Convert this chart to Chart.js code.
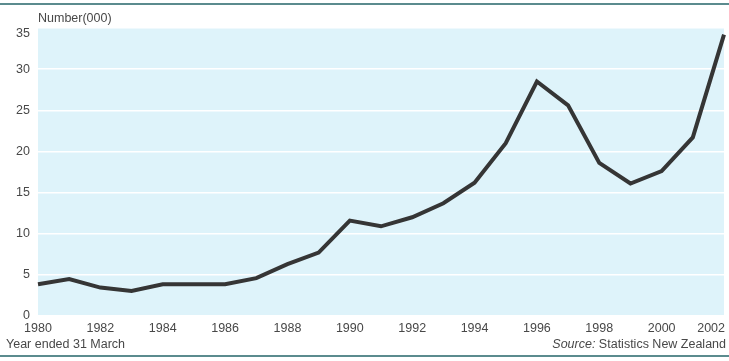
<!DOCTYPE html>
<html>
<head>
<meta charset="utf-8">
<script src="https://cdn.jsdelivr.net/npm/chart.js@4/dist/chart.umd.min.js"></script>
<style>
  html, body { margin: 0; padding: 0; background: #ffffff; }
  #wrap { position: relative; width: 729px; height: 361px; overflow: hidden; font-family: "Liberation Sans", Arial, sans-serif; }
  canvas { position: absolute; left: 0; top: 0; }
  .rule { position: absolute; left: 0; width: 729px; height: 2px; background: #5b8b8e; }
  .txt { position: absolute; font-size: 12.5px; color: #484848; line-height: 14px; white-space: nowrap; }
</style>
</head>
<body>
<div id="wrap">
  <canvas id="c" width="729" height="361"></canvas>
  <div class="rule" style="top:3px"></div>
  <div class="rule" style="top:355px"></div>
  <div class="txt" style="left:38px; top:11px;">Number(000)</div>
  <div class="txt" style="left:6px; top:337px;">Year ended 31 March</div>
  <div class="txt" style="right:3px; top:337px;"><i>Source:</i> Statistics New Zealand</div>
</div>
<script>
const years = ["1980","1981","1982","1983","1984","1985","1986","1987","1988","1989","1990","1991","1992","1993","1994","1995","1996","1997","1998","1999","2000","2001","2002"];
const numbers = [3.85, 4.5, 3.45, 3.05, 3.85, 3.85, 3.85, 4.6, 6.3, 7.7, 11.6, 10.9, 12.0, 13.7, 16.2, 21.0, 28.5, 25.6, 18.6, 16.1, 17.6, 21.7, 34.2];
const yTicks = [0, 5, 10, 15, 20, 25, 30, 35];

const panelBg = {
  id: 'panelBg',
  beforeDraw(chart) {
    const {ctx, chartArea: a} = chart;
    ctx.save();
    ctx.fillStyle = '#def3fa';
    ctx.fillRect(a.left, a.top, a.right - a.left, a.bottom - a.top);
    ctx.restore();
  }
};
const labelTweaks = {
  id: 'labelTweaks',
  beforeDraw(chart) {
    const sx = chart.scales.x;
    const items = sx.getLabelItems();
    if (items.length) {
      const it = items[items.length - 1];
      it.options.textAlign = 'right';
      it.options.translation = [sx.right + 1, it.options.translation[1]];
    }
    const sy = chart.scales.y;
    const yItems = sy.getLabelItems();
    yItems.forEach(it => {
      if (it.label === '35' && !it._moved) {
        it.options.translation = [it.options.translation[0], it.options.translation[1] + 6];
        it._moved = true;
      }
    });
  }
};

new Chart(document.getElementById('c'), {
  type: 'line',
  data: {
    labels: years,
    datasets: [{
      data: numbers,
      borderColor: '#353535',
      borderWidth: 4,
      pointRadius: 0,
      tension: 0,
      fill: false
    }]
  },
  options: {
    responsive: false,
    animation: false,
    devicePixelRatio: 1,
    layout: { padding: { top: 28, right: 5, bottom: 21, left: 0 } },
    plugins: { legend: { display: false }, tooltip: { enabled: false } },
    scales: {
      x: {
        type: 'category',
        offset: false,
        grid: { display: false, drawTicks: false },
        border: { display: false },
        ticks: {
          autoSkip: false,
          maxRotation: 0,
          padding: 5,
          color: '#484848',
          font: { family: '"Liberation Sans", Arial, sans-serif', size: 12.5 },
          callback: function(v, i) { return i % 2 === 0 ? years[i] : ''; }
        },
        afterFit(s) { s.height = 24; s.paddingLeft = 0; s.paddingRight = 0; }
      },
      y: {
        min: 0,
        max: 35,
        afterBuildTicks(s) { s.ticks = yTicks.map(v => ({ value: v })); },
        grid: { color: '#ffffff', lineWidth: 1.5, drawTicks: false },
        border: { display: false },
        ticks: {
          padding: 8,
          color: '#484848',
          font: { family: '"Liberation Sans", Arial, sans-serif', size: 12.5 }
        },
        afterFit(s) { s.width = 38; }
      }
    }
  },
  plugins: [panelBg, labelTweaks]
});
</script>
</body>
</html>
